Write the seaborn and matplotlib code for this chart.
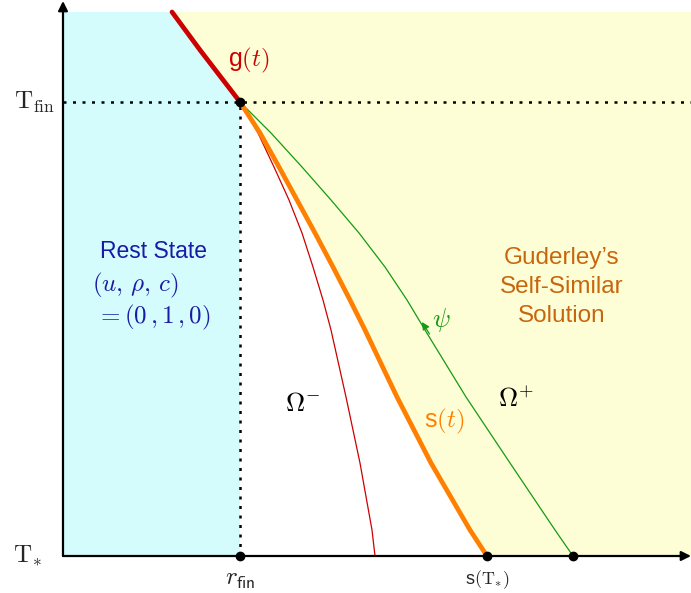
import matplotlib
matplotlib.use("Agg")
import matplotlib.pyplot as plt
import seaborn as sns

# === Curve data (r, t), origin at the axes crossing ===
g_t = [454, 506, 544]
g_r = [177, 137, 109]

curve_t = [454, 423, 389, 356, 323, 289, 256, 226, 159, 93, 26, 0]
s_r = [177, 197, 216, 234, 252, 270, 287, 302, 334, 368, 407, 424]      # shock s(t)
inner_r = [177, 195, 211, 226, 239, 250, 260, 268, 283, 297, 309, 312]  # thin red
psi_r = [177, 208, 239, 268, 296, 322, 344, 362, 403, 447, 492, 510]    # characteristic psi

T_fin = 454
T_star = 0
r_fin = 177
s_Tstar = 424
psi_end = 510
t_top = 544
r_max = 628

# === Style ===
sns.set_style("white")
plt.rcParams["font.family"] = ["Liberation Sans", "DejaVu Sans"]
plt.rcParams["mathtext.fontset"] = "cm"

fig = plt.figure(figsize=(6.91, 5.93), dpi=100)
ax = fig.add_axes([0, 0, 1, 1])
ax.set_xlim(-63, 628)
ax.set_ylim(-37, 556)
ax.set_axis_off()

cyan = "#d4fcfc"
yellow = "#fefed6"

# === Regions ===
cyan_r = [0, r_fin] + g_r + [0]
cyan_t = [T_star, T_star] + g_t + [t_top]
ax.fill(cyan_r, cyan_t, color=cyan, lw=0, zorder=0)

yel_r = g_r[::-1] + s_r + [r_max, r_max]
yel_t = g_t[::-1] + curve_t + [T_star, t_top]
ax.fill(yel_r, yel_t, color=yellow, lw=0, zorder=0)

# === Dotted guides ===
dots = (0, (1.2, 2.6))
ax.plot([0, r_max], [T_fin, T_fin], color="black", lw=1.8,
        linestyle=dots, dash_capstyle="butt", zorder=1)
ax.plot([r_fin, r_fin], [T_star, T_fin], color="black", lw=1.8,
        linestyle=dots, dash_capstyle="butt", zorder=1)

# === Curves ===
sns.lineplot(x=inner_r, y=curve_t, sort=False, color="#cc0000", lw=0.9, ax=ax, zorder=2)
sns.lineplot(x=psi_r, y=curve_t, sort=False, color="#139a13", lw=0.9, ax=ax, zorder=2)
sns.lineplot(x=s_r, y=curve_t, sort=False, color="#ff8000", lw=3.4, ax=ax, zorder=3)
sns.lineplot(x=g_r, y=g_t, sort=False, color="#cc0000", lw=3.4, ax=ax, zorder=3)

# arrow on psi
ax.annotate("", xy=(359, 234), xytext=(366.5, 222),
            arrowprops=dict(arrowstyle="-|>", color="#139a13", lw=0.9,
                            mutation_scale=11, shrinkA=0, shrinkB=0), zorder=4)

# === Axes with arrows ===
ax.annotate("", xy=(0, 555), xytext=(0, T_star),
            arrowprops=dict(arrowstyle="-|>", color="black", lw=1.6,
                            mutation_scale=14, shrinkA=0, shrinkB=0), zorder=5)
ax.annotate("", xy=(628, 0), xytext=(0, 0),
            arrowprops=dict(arrowstyle="-|>", color="black", lw=1.6,
                            mutation_scale=14, shrinkA=0, shrinkB=0), zorder=5)

# === Points ===
ax.plot([r_fin, r_fin, s_Tstar, psi_end], [T_fin, T_star, T_star, T_star],
        "o", color="black", ms=6, zorder=6)

# === Labels ===
ax.text(-8, T_fin, r"$\mathrm{T}_{\mathrm{fin}}$", fontsize=18, ha="right", va="center")
ax.text(-21, T_star, r"$\mathrm{T}_{*}$", fontsize=18, ha="right", va="center")
ax.text(r_fin, -11, r"$r_{\mathsf{fin}}$", fontsize=18, ha="center", va="top")
ax.text(s_Tstar, -12, r"s$(\mathrm{T}_{*})$", fontsize=13, ha="center", va="top")

ax.text(186, 496, r"g$(t)$", fontsize=18, color="#cc0000", ha="center", va="center")
ax.text(381, 135, r"s$(t)$", fontsize=18, color="#ff8000", ha="center", va="center")
ax.text(378, 236, r"$\psi$", fontsize=19, color="#139a13", ha="center", va="center")

ax.text(240, 152, r"$\Omega^{-}$", fontsize=19, color="black", ha="center", va="center")
ax.text(453, 157, r"$\Omega^{+}$", fontsize=19, color="black", ha="center", va="center")

navy = "#1a1aa6"
ax.text(91, 304, "Rest State", fontsize=16.5, color=navy, ha="center", va="center")
ax.text(72, 271, r"$(u,\,\rho,\,c)$", fontsize=18, color=navy, ha="center", va="center")
ax.text(90, 239, r"$=(0\,,1\,,0)$", fontsize=18, color=navy, ha="center", va="center")

brown = "#c8660e"
ax.text(499, 269, "Guderley\u2019s\nSelf-Similar\nSolution", fontsize=17.5, color=brown,
        ha="center", va="center", linespacing=1.4)

plt.savefig("out.png", dpi=100)
